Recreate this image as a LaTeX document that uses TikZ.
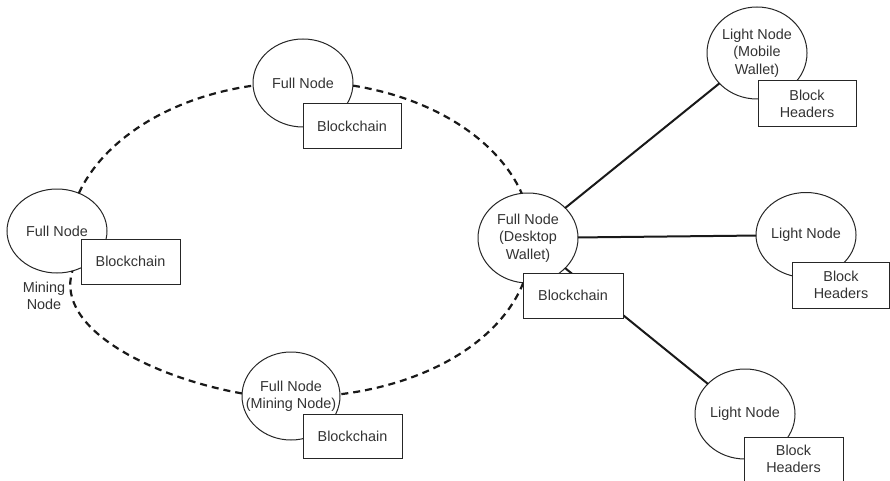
\documentclass[tikz,border=0pt]{standalone}
\usepackage{fontspec}
\setmainfont{Liberation Sans}
\usetikzlibrary{shapes.geometric}

\begin{document}
\begin{tikzpicture}[x=1pt,y=1pt,
  every node/.style={font=\fontsize{14.4}{17.3}\selectfont, text=black!80},
  peer/.style={ellipse, draw=black!85, line width=1pt, fill=white,
    inner sep=0pt, outer sep=0pt, minimum width=100pt, minimum height=88pt},
  tag/.style={align=center},
  store/.style={rectangle, draw=black!85, line width=1pt, fill=white,
    align=center, inner sep=0pt, minimum width=99pt, minimum height=45pt},
  ring/.style={line width=2.2pt, dash pattern=on 7pt off 5pt, draw=black!90},
  link/.style={line width=2pt, draw=black!90}]
\useasboundingbox (0,0) rectangle (890,480);

% peers of the network
\node[peer, minimum height=84pt, label={[tag]center:Full Node}] (left) at (57,249) {};
\node[peer, label={[tag]center:Full Node}] (top) at (303,397) {};
\node[peer, minimum height=90pt, label={[tag]center:{Full Node\\(Desktop\\Wallet)}}] (desk) at (528,242) {};
\node[peer, minimum width=98pt, label={[tag]center:{Full Node\\(Mining Node)}}] (bot) at (291,84) {};
\node[peer, minimum height=92pt, label={[tag]center:{Light Node\\(Mobile\\Wallet)}}] (mob) at (757,427) {};
\node[peer, minimum height=85pt, label={[tag]center:Light Node}] (lmid) at (806,245) {};
\node[peer, minimum height=90pt, label={[tag]center:Light Node}] (lbot) at (745,66) {};

\node[tag] (mining) at (44,184) {Mining\\Node};

% full-node ring
\draw[ring] (left.60) .. controls +(65:60) and +(188:83) .. (top.183);
\draw[ring] (top.357) .. controls +(-9:81) and +(114:59) .. (desk.98);
\draw[ring] (desk.264) .. controls +(248:63) and +(7:89) .. (bot.2);
\draw[ring] (bot.177) .. controls +(170:87) and +(253:62) .. (left.291);

% light clients attached to the desktop wallet
\draw[link] (desk) -- (mob);
\draw[link] (desk) -- (lmid);
\draw[link] (desk) -- (lbot);

% local data stores
\node[store, minimum width=98pt] (topbc) at (352,353.5) {Blockchain};
\node[store] (leftbc) at (130.5,218.5) {Blockchain};
\node[store, minimum width=100pt] (deskbc) at (573,184.5) {Blockchain};
\node[store, minimum height=44pt] (botbc) at (352.5,44) {Blockchain};
\node[store, minimum width=98pt, minimum height=46pt] (mobbh) at (807,376) {Block\\Headers};
\node[store, minimum width=97pt, minimum height=46pt] (lmidbh) at (841,195) {Block\\Headers};
\node[store, minimum height=44pt] (lbotbh) at (793.5,21) {Block\\Headers};
\end{tikzpicture}
\end{document}
